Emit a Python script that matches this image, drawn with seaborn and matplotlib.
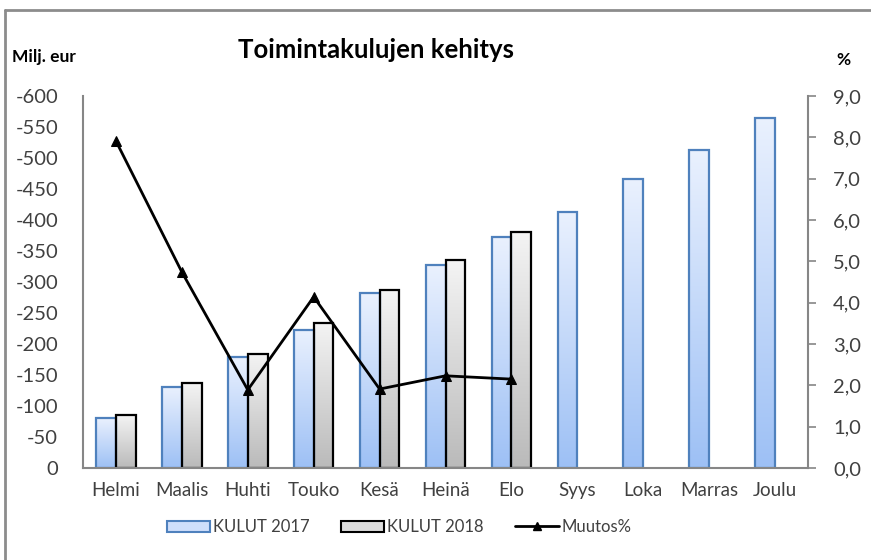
import numpy as np
import pandas as pd
import seaborn as sns
import matplotlib.pyplot as plt
from matplotlib.patches import Patch
from matplotlib.lines import Line2D
from matplotlib.colors import LinearSegmentedColormap

# data
months = ["Helmi", "Maalis", "Huhti", "Touko", "Kesä", "Heinä", "Elo",
          "Syys", "Loka", "Marras", "Joulu"]
kulut_2017 = [-80, -131, -179, -223, -282, -327, -373, -413, -466, -513, -565]
kulut_2018 = [-85, -137, -184, -234, -287, -335, -381]
muutos = [7.91, 4.74, 1.89, 4.14, 1.91, 2.23, 2.15]
left_ticks = [0, -50, -100, -150, -200, -250, -300, -350, -400, -450, -500, -550, -600]
right_ticks = [0, 1, 2, 3, 4, 5, 6, 7, 8, 9]

sns.set_style("white")
plt.rcParams['font.family'] = ['Lato', 'DejaVu Sans']

df = pd.DataFrame({
    "kk": months * 2,
    "sarja": ["KULUT 2017"] * len(months) + ["KULUT 2018"] * len(months),
    "arvo": kulut_2017 + kulut_2018 + [np.nan] * (len(months) - len(kulut_2018)),
})

fig = plt.figure(figsize=(8.71, 5.6), dpi=100)
ax = fig.add_axes([0.0953, 0.1643, 0.8324, 0.6643])

sns.barplot(data=df, x="kk", y="arvo", hue="sarja", order=months,
            width=0.6, dodge=True, legend=False, ax=ax,
            palette=["#ffffff", "#ffffff"], saturation=1, zorder=2)

ax.set_xlim(-0.5, len(months) - 0.5)
ax.set_ylim(0, -600)

# gradient fills clipped to each bar
grad_blue = LinearSegmentedColormap.from_list("b", ["#9dc0f5", "#eaf1fe"])
grad_grey = LinearSegmentedColormap.from_list("g", ["#bababa", "#f4f4f4"])
styles = [(grad_blue, "#4f81bd"), (grad_grey, "#000000")]
grad = np.linspace(0, 1, 256).reshape(-1, 1)
for cont, (cmap, ec) in zip(ax.containers, styles):
    for bar in cont:
        h = bar.get_height()
        if np.isnan(h) or h == 0:
            continue
        bar.set_facecolor("none")
        bar.set_edgecolor(ec)
        bar.set_linewidth(1.6)
        x0 = bar.get_x()
        x1 = x0 + bar.get_width()
        im = ax.imshow(grad, cmap=cmap, origin="lower", aspect="auto",
                       extent=(x0, x1, 0, h), zorder=1.5)
        im.set_clip_path(bar)

ax.set_xlim(-0.5, len(months) - 0.5)
ax.set_ylim(0, -600)
ax.set_yticks(left_ticks)
ax.set_yticklabels([str(t) for t in left_ticks])
ax.set_xlabel("")
ax.set_ylabel("")
ax.set_xticks(np.arange(len(months)))
ax.set_xticklabels(months)
ax.set_xticks(np.arange(len(months) + 1) - 0.5, minor=True)
ax.tick_params(axis="x", which="major", length=0, pad=10, labelsize=13.5, colors="#404040")
ax.tick_params(axis="x", which="minor", length=6, width=1.2, color="#868686", direction="out")
ax.tick_params(axis="y", length=0, pad=18, labelsize=14.5, colors="#404040")
for s in ["top", "right"]:
    ax.spines[s].set_visible(False)
for s in ["left", "bottom"]:
    ax.spines[s].set_color("#868686")
    ax.spines[s].set_linewidth(1.5)

# muutos% line on secondary axis
ax2 = ax.twinx()
sns.lineplot(x=np.arange(len(muutos)), y=muutos, ax=ax2, color="black",
             linewidth=2, marker="^", markersize=7, markeredgecolor="black")
ax2.set_ylim(0, 9)
ax2.set_xlim(-0.5, len(months) - 0.5)
ax2.set_yticks(right_ticks)
ax2.set_yticklabels([f"{t:.1f}".replace(".", ",") for t in right_ticks])
ax2.tick_params(axis="y", length=6, width=1.2, color="#868686", pad=12,
                labelsize=14.5, labelcolor="#404040", direction="out")
for s in ["top", "left", "bottom"]:
    ax2.spines[s].set_visible(False)
ax2.spines["right"].set_color("#868686")
ax2.spines["right"].set_linewidth(1.5)

# texts
fig.text(376 / 871, 1 - 50 / 560, "Toimintakulujen kehitys", ha="center", va="center",
         fontsize=18.5, fontweight="bold", color="black")
fig.text(12 / 871, 1 - 57 / 560, "Milj. eur", ha="left", va="center",
         fontsize=12.5, fontweight="bold", color="black")
fig.text(843 / 871, 1 - 60 / 560, "%", ha="center", va="center",
         fontsize=12.5, fontweight="bold", color="black")

# legend
handles = [
    Patch(facecolor="#cfdffb", edgecolor="#4f81bd", linewidth=1.5, label="KULUT 2017"),
    Patch(facecolor="#dcdcdc", edgecolor="black", linewidth=1.5, label="KULUT 2018"),
    Line2D([0], [0], color="black", linewidth=2, marker="^", markersize=6, label="Muutos%"),
]
fig.legend(handles=handles, loc="center", bbox_to_anchor=(399 / 871, 1 - 527 / 560), ncol=3,
           frameon=False, fontsize=12, handlelength=2.6, handleheight=0.65,
           columnspacing=1.9, handletextpad=0.15, labelcolor="#404040")

# outer frame (top and left edges visible)
fig.add_artist(Line2D([5 / 871, 5 / 871], [0, 1 - 10 / 560], transform=fig.transFigure,
                      color="#8c8c8c", linewidth=2))
fig.add_artist(Line2D([5 / 871, 1], [1 - 10 / 560, 1 - 10 / 560], transform=fig.transFigure,
                      color="#8c8c8c", linewidth=2))

fig.savefig("out.png", dpi=100)
